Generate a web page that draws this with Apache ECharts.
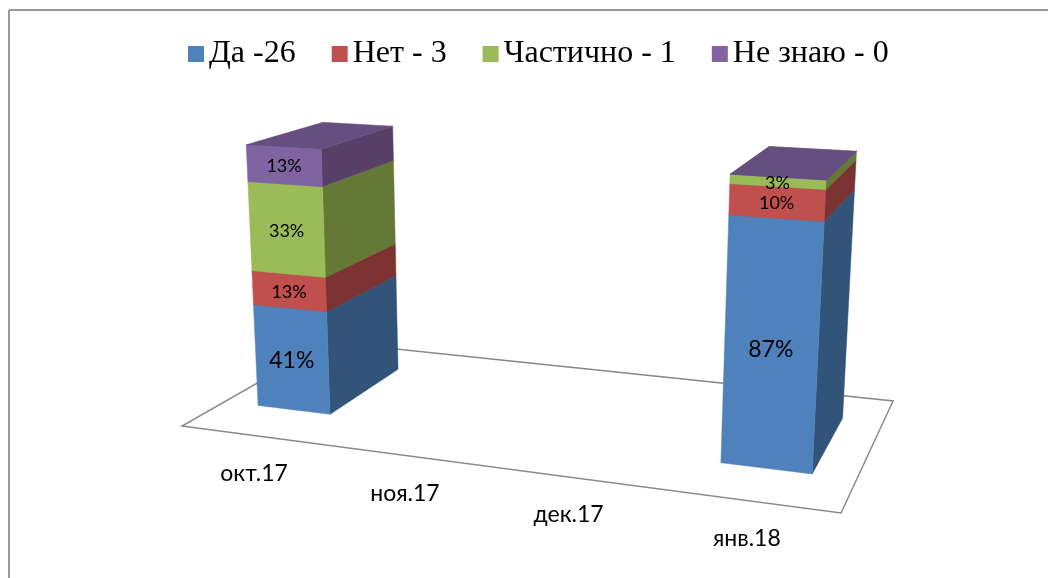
<!DOCTYPE html>
<html>
<head>
<meta charset="utf-8">
<style>
  html, body { margin: 0; padding: 0; background: #fff; }
  #chart { width: 1048px; height: 578px; }
</style>
<script src="https://cdn.jsdelivr.net/npm/echarts@6/dist/echarts.min.js"></script>
</head>
<body>
<div id="chart"></div>
<script>
const categories = ['окт.17', 'ноя.17', 'дек.17', 'янв.18'];
const seriesNames = ['Да -26', 'Нет - 3', 'Частично - 1', 'Не знаю - 0'];
const yes = [41, null, null, 87];
const no = [13, null, null, 10];
const partly = [33, null, null, 3];
const unknown = [13, null, null, 0];

const frontColors = ['#4f81bd', '#c0504d', '#9bbb59', '#8064a2'];
const sideColors = ['#335479', '#7b3230', '#657936', '#574068'];
const topColors = ['#3f6797', '#99403d', '#7c9647', '#654e80'];
const labelSizes = [23, 18, 18, 18];

// floor of the 3D box, from the unit square (u along categories, d into the depth)
const floorH = { a: 529.7, b: 207, c: 182, d: 8.1, e: -21.6, f: 426, g: -0.1538, h: 0.1825 };
const depthFront = 0.26;
const depthBack = 0.775;
const barShare = 0.515;

const project = (u, d, v) => {
  const w = floorH.g * u + floorH.h * d + 1;
  const fx = (floorH.a * u + floorH.b * d + floorH.c) / w;
  const fy = (floorH.d * u + floorH.e * d + floorH.f) / w;
  const height = (v / (1 + 0.1 * (1 - v))) * 0.486 * (fy + 131);
  return [fx + ((fx - 531) * height) / (6392 - fy), fy - height];
};

const polygon = (points, fill) => ({
  type: 'polygon',
  shape: { points },
  style: { fill, stroke: fill, lineWidth: 0.5 }
});

const stacks = [yes, no, partly, unknown];

const stackRows = index =>
  categories
    .map((cat, i) => {
      if (stacks[index][i] === null) return null;
      let base = 0;
      for (let s = 0; s < index; s++) base += stacks[s][i];
      return [i, base + stacks[index][i], base, stacks[index][i]];
    })
    .filter(Boolean);

const toUnit = (params, api, i, value) => {
  const sys = params.coordSys;
  const pt = api.coord([i, value]);
  return [(pt[0] - sys.x) / sys.width, (sys.y + sys.height - pt[1]) / sys.height];
};

const renderSegment = index => (params, api) => {
  const i = api.value(0);
  const [uc, v1] = toUnit(params, api, i, api.value(1));
  const [, v0] = toUnit(params, api, i, api.value(2));
  const half = (api.size([1, 0])[0] * barShare) / 2 / params.coordSys.width;
  const u0 = uc - half;
  const u1 = uc + half;
  const value = api.value(3);
  const children = [
    polygon([project(u1, depthFront, v0), project(u1, depthBack, v0), project(u1, depthBack, v1), project(u1, depthFront, v1)], sideColors[index]),
    polygon([project(u0, depthFront, v0), project(u1, depthFront, v0), project(u1, depthFront, v1), project(u0, depthFront, v1)], frontColors[index]),
    polygon([project(u0, depthFront, v1), project(u1, depthFront, v1), project(u1, depthBack, v1), project(u0, depthBack, v1)], topColors[index])
  ];
  if (value > 0) {
    const mid = project(uc, depthFront, (v0 + v1) / 2);
    children.push({
      type: 'text',
      z2: 10,
      style: {
        text: value + '%',
        x: mid[0],
        y: mid[1] + 1,
        align: 'center',
        verticalAlign: 'middle',
        fill: '#000',
        font: labelSizes[index] + 'px Lato, "Open Sans", sans-serif'
      }
    });
  }
  return { type: 'group', children };
};

const renderFloor = (params, api) => {
  const i = api.value(0);
  const [uc] = toUnit(params, api, i, 0);
  const front = project(uc, 0, 0);
  const children = [
    {
      type: 'text',
      style: {
        text: categories[i],
        x: front[0] + 1,
        y: front[1] + 38,
        align: 'center',
        verticalAlign: 'middle',
        fill: '#000',
        font: '23px Lato, "Open Sans", sans-serif'
      }
    }
  ];
  if (i === 0) {
    const corners = [project(0, 0, 0), project(1, 0, 0), project(1, 1, 0), project(0, 1, 0)];
    children.unshift({
      type: 'polygon',
      shape: { points: corners },
      style: { fill: '#fff', stroke: '#8a8a8a', lineWidth: 1.5 }
    });
  }
  return { type: 'group', children };
};

const chart = echarts.init(document.getElementById('chart'));

chart.setOption({
  animation: false,
  backgroundColor: '#fff',
  grid: { left: 100, right: 100, top: 100, bottom: 100 },
  xAxis: { type: 'category', data: categories, show: false },
  yAxis: { type: 'value', min: 0, max: 100, show: false },
  legend: {
    data: seriesNames,
    left: 183,
    top: 33,
    icon: 'rect',
    itemWidth: 16,
    itemHeight: 16,
    itemGap: 36,
    textStyle: { fontFamily: '"Liberation Serif", serif', fontSize: 32, color: '#000' }
  },
  graphic: [
    { type: 'line', shape: { x1: 9, y1: 10, x2: 1048, y2: 10 }, style: { stroke: '#999', lineWidth: 2 } },
    { type: 'line', shape: { x1: 9, y1: 10, x2: 9, y2: 578 }, style: { stroke: '#999', lineWidth: 2 } }
  ],
  series: [
    {
      name: 'floor',
      type: 'custom',
      silent: true,
      clip: false,
      renderItem: renderFloor,
      data: categories.map((cat, i) => [i, 0])
    },
    ...seriesNames.map((name, index) => ({
      name,
      type: 'custom',
      clip: false,
      itemStyle: { color: frontColors[index] },
      renderItem: renderSegment(index),
      encode: { x: 0, y: 1 },
      data: stackRows(index)
    }))
  ]
});
</script>
</body>
</html>
